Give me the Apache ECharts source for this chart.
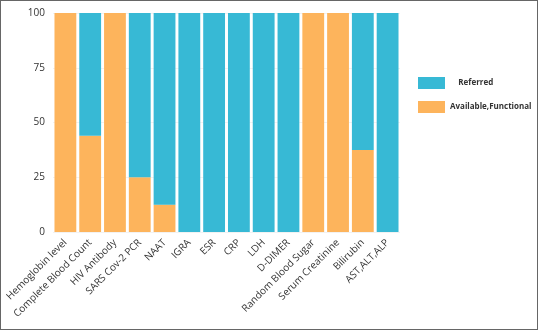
<!DOCTYPE html>
<html>
<head>
<meta charset="utf-8">
<script src="https://cdn.jsdelivr.net/npm/echarts@6/dist/echarts.min.js"></script>
<style>
  html, body { margin: 0; padding: 0; background: #fff; }
  #main { width: 538px; height: 330px; box-sizing: border-box; border: 1px solid #666; }
</style>
</head>
<body>
<div id="main"></div>
<script>
var tests = ['Hemoglobin level', 'Complete Blood Count', 'HIV Antibody', 'SARS Cov-2 PCR', 'NAAT',
  'IGRA', 'ESR', 'CRP', 'LDH', 'D-DIMER', 'Random Blood Sugar', 'Serum Creatinine', 'Bilirubin', 'AST,ALT,ALP'];
var available = [100, 44, 100, 25, 12.5, 0, 0, 0, 0, 0, 100, 100, 37.5, 0];
var referred = [0, 56, 0, 75, 87.5, 100, 100, 100, 100, 100, 0, 0, 62.5, 100];
var yTicks = [0, 25, 50, 75, 100];

var chart = echarts.init(document.getElementById('main'));

var option = {
  animation: false,
  grid: { left: 52, right: 137, top: 12, bottom: 97 },
  legend: {
    orient: 'vertical',
    left: 412,
    top: 71,
    itemWidth: 27,
    itemHeight: 12,
    itemGap: 12,
    icon: 'rect',
    data: ['Referred', 'Available,Functional'],
    textStyle: { fontSize: 8, fontWeight: 'bold', color: '#333', fontFamily: 'Open Sans' },
    formatter: function (name) {
      return name === 'Referred' ? '    ' + name : name;
    }
  },
  xAxis: {
    type: 'category',
    data: tests,
    axisLine: { show: false },
    axisTick: { show: false },
    axisLabel: {
      rotate: 45,
      interval: 0,
      fontSize: 10,
      color: '#333',
      fontFamily: 'Open Sans',
      margin: 9
    }
  },
  yAxis: {
    type: 'value',
    min: 0,
    max: 100,
    interval: 25,
    axisLine: { show: false },
    axisTick: { show: false },
    splitLine: { lineStyle: { color: '#f2f2f2' } },
    axisLabel: {
      fontSize: 10,
      color: '#333',
      margin: 8,
      fontFamily: 'Open Sans',
      formatter: function (v) { return yTicks.indexOf(v) >= 0 ? String(v) : ''; }
    }
  },
  series: [
    {
      name: 'Available,Functional',
      type: 'bar',
      stack: 'total',
      data: available,
      barCategoryGap: '12%',
      itemStyle: { color: '#FDB45C' }
    },
    {
      name: 'Referred',
      type: 'bar',
      stack: 'total',
      data: referred,
      barCategoryGap: '12%',
      itemStyle: { color: '#37B9D5' }
    }
  ]
};

chart.setOption(option);
</script>
</body>
</html>
